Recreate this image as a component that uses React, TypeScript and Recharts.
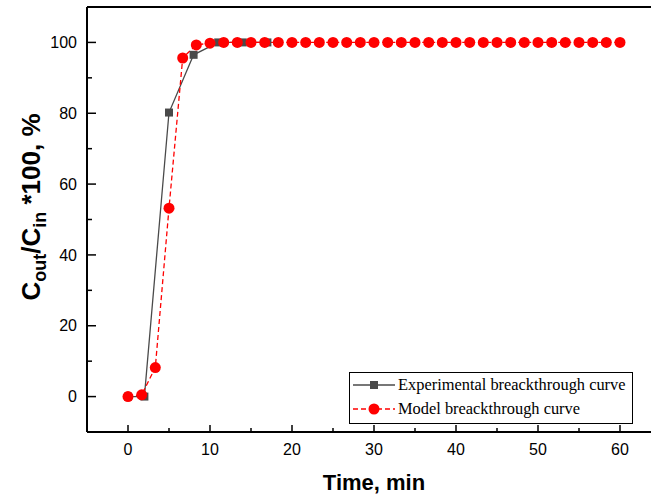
import React from 'react';
import { ComposedChart, Line, XAxis, YAxis, ReferenceLine, Label } from 'recharts';

const expTime = [0, 2, 5, 8, 11, 14, 17];
const expValue = [0, 0, 80.2, 96.5, 100, 100, 100];

const modelTime = [
  0, 1.67, 3.33, 5, 6.67, 8.33, 10, 11.67, 13.33, 15, 16.67, 18.33, 20, 21.67, 23.33, 25,
  26.67, 28.33, 30, 31.67, 33.33, 35, 36.67, 38.33, 40, 41.67, 43.33, 45, 46.67, 48.33, 50,
  51.67, 53.33, 55, 56.67, 58.33, 60,
];
const modelValue = [
  0, 0.5, 8.2, 53.2, 95.6, 99.3, 99.8, 100, 100, 100, 100, 100, 100, 100, 100, 100,
  100, 100, 100, 100, 100, 100, 100, 100, 100, 100, 100, 100, 100, 100, 100,
  100, 100, 100, 100, 100, 100,
];

const xTicks = [0, 5, 10, 15, 20, 25, 30, 35, 40, 45, 50, 55, 60];
const yTicks = [0, 10, 20, 30, 40, 50, 60, 70, 80, 90, 100];

const expName = 'Experimental breackthrough curve';
const modelName = 'Model breackthrough curve';

const expData = expTime.map((t, i) => ({ t, v: expValue[i] }));
const modelData = modelTime.map((t, i) => ({ t, v: modelValue[i] }));

const AX = '#000000';
const GRAY = '#4a4a4a';
const RED = '#ff0000';
const SANS = '"Liberation Sans", Arial, sans-serif';
const SERIF = '"Liberation Serif", "Times New Roman", serif';

const XTick = (props: any) => {
  const { x, y, payload } = props;
  const v = payload.value;
  const major = v % 10 === 0;
  const axisY = y - 12;
  return (
    <g>
      <line x1={x} x2={x} y1={axisY} y2={axisY - (major ? 7 : 4)} stroke={AX} strokeWidth={1.5} />
      {major && (
        <text x={x} y={y} dy="0.71em" textAnchor="middle" fontFamily={SANS} fontSize={16} fill="#000">
          {v}
        </text>
      )}
    </g>
  );
};

const YTick = (props: any) => {
  const { x, y, payload } = props;
  const v = payload.value;
  const major = v % 20 === 0;
  const axisX = x + 10;
  return (
    <g>
      <line x1={axisX} x2={axisX + (major ? 9 : 5)} y1={y} y2={y} stroke={AX} strokeWidth={1.5} />
      {major && (
        <text x={x} y={y} dy="0.355em" textAnchor="end" fontFamily={SANS} fontSize={16} fill="#000">
          {v}
        </text>
      )}
    </g>
  );
};

const SquareDot = (props: any) => {
  const { cx, cy, index } = props;
  if (cx == null || cy == null) return <g key={`s${index}`} />;
  return <rect key={`s${index}`} x={cx - 4} y={cy - 4} width={8} height={8} fill={GRAY} />;
};

const CircleDot = (props: any) => {
  const { cx, cy, index } = props;
  if (cx == null || cy == null) return <g key={`c${index}`} />;
  return <circle key={`c${index}`} cx={cx} cy={cy} r={5.5} fill={RED} />;
};

const YTitle = () => {
  const bx = 40;
  const cy = 207;
  return (
    <text
      x={bx}
      y={cy}
      transform={`rotate(-90 ${bx} ${cy})`}
      textAnchor="middle"
      fontFamily={SANS}
      fontWeight="bold"
      fontSize={26}
      fill="#000"
    >
      <tspan>C</tspan>
      <tspan fontSize={18} dy={6}>out</tspan>
      <tspan dy={-6}>/C</tspan>
      <tspan fontSize={18} dy={6}>in</tspan>
      <tspan dy={-6}> *100, %</tspan>
    </text>
  );
};

const LegendBox = () => (
  <div
    style={{
      position: 'absolute',
      left: 349,
      top: 372,
      border: '1px solid #000',
      background: '#fff',
      width: 284,
      height: 52,
      boxSizing: 'border-box',
      fontFamily: SERIF,
      fontSize: 16.4,
      color: '#000',
      paddingTop: 0,
      lineHeight: '22px',
    }}
  >
    <div style={{ display: 'flex', alignItems: 'center', height: 24 }}>
      <svg width={46} height={12} style={{ marginLeft: 2, flex: 'none' }}>
        <line x1={1} x2={43} y1={6} y2={6} stroke={GRAY} strokeWidth={1.5} />
        <rect x={18} y={2} width={8} height={8} fill={GRAY} />
      </svg>
      <span style={{ whiteSpace: 'nowrap' }}>{expName}</span>
    </div>
    <div style={{ display: 'flex', alignItems: 'center', height: 24 }}>
      <svg width={46} height={12} style={{ marginLeft: 2, flex: 'none' }}>
        <line x1={1} x2={43} y1={6} y2={6} stroke={RED} strokeWidth={1.5} strokeDasharray="5 3" />
        <circle cx={22} cy={6} r={5.5} fill={RED} />
      </svg>
      <span style={{ whiteSpace: 'nowrap' }}>{modelName}</span>
    </div>
  </div>
);

export default function App() {
  return (
    <div style={{ position: 'absolute', left: 0, top: 0, width: 651, height: 495, overflow: 'hidden', background: '#fff' }}>
      <ComposedChart width={680} height={495} margin={{ top: 7, right: 19, left: 0, bottom: 0 }}>
        <XAxis
          dataKey="t"
          type="number"
          domain={[-5, 65]}
          ticks={xTicks}
          interval={0}
          allowDuplicatedCategory={false}
          height={63}
          tickSize={0}
          tickMargin={12}
          tick={<XTick />}
          tickLine={false}
          axisLine={{ stroke: AX, strokeWidth: 2 }}
        >
          <Label
            content={() => (
              <text x={374} y={490} textAnchor="middle" fontFamily={SANS} fontWeight="bold" fontSize={22} fill="#000">
                Time, min
              </text>
            )}
          />
        </XAxis>
        <YAxis
          dataKey="v"
          type="number"
          domain={[-10, 110]}
          ticks={yTicks}
          interval={0}
          width={87}
          tickSize={0}
          tickMargin={10}
          tick={<YTick />}
          tickLine={false}
          axisLine={{ stroke: AX, strokeWidth: 2 }}
        >
          <Label content={<YTitle />} />
        </YAxis>
        <ReferenceLine y={110} stroke={AX} strokeWidth={2} ifOverflow="visible" />
        <Line
          data={expData}
          dataKey="v"
          name={expName}
          type="linear"
          stroke={GRAY}
          strokeWidth={1.3}
          dot={SquareDot}
          activeDot={false}
          isAnimationActive={false}
        />
        <Line
          data={modelData}
          dataKey="v"
          name={modelName}
          type="linear"
          stroke={RED}
          strokeWidth={1.3}
          strokeDasharray="5 3"
          dot={CircleDot}
          activeDot={false}
          isAnimationActive={false}
        />
      </ComposedChart>
      <LegendBox />
    </div>
  );
}
